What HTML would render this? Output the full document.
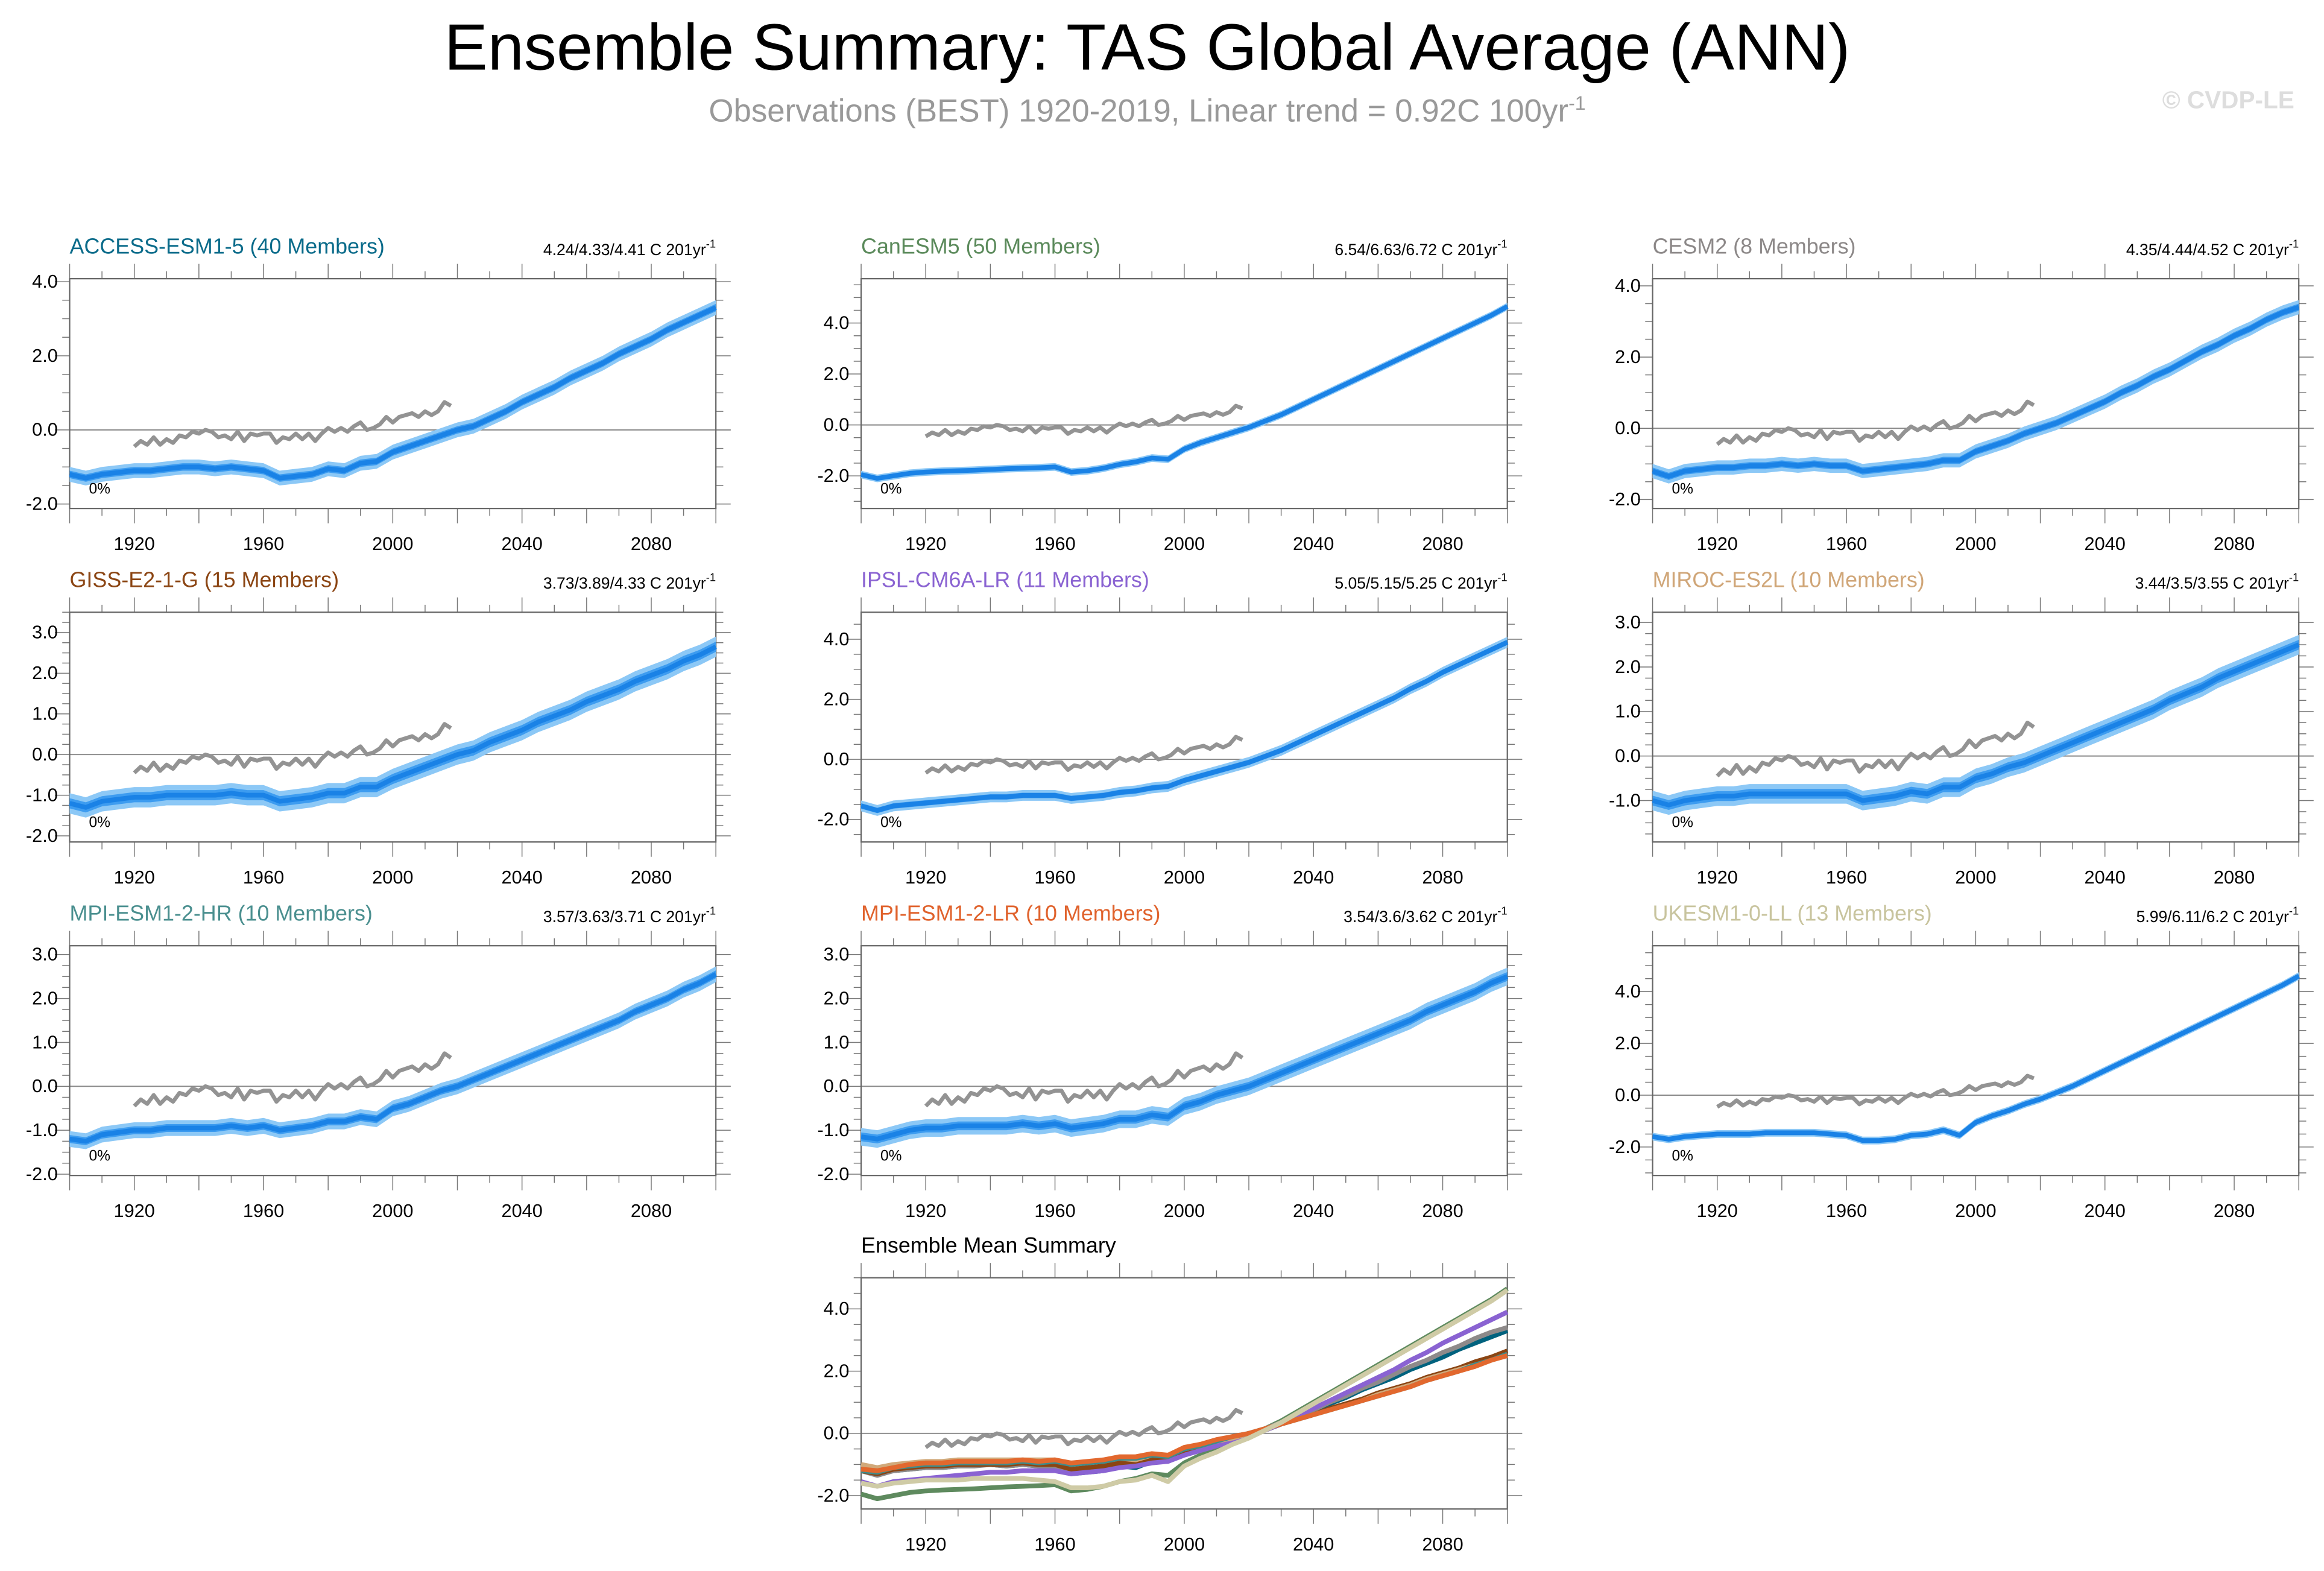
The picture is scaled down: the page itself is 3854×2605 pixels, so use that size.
<!DOCTYPE html>
<html><head><meta charset="utf-8"><style>
html,body{margin:0;padding:0;background:#fff;}
svg{display:block;font-family:"Liberation Sans",sans-serif;}
</style></head><body>
<svg id="chart" width="3854" height="2605" viewBox="0 0 1568 1059.8" xmlns="http://www.w3.org/2000/svg">
<rect width="1568" height="1059.8" fill="#fff"/>
<text x="774" y="47" font-size="44" text-anchor="middle" fill="#000">Ensemble Summary: TAS Global Average (ANN)</text>
<text x="774" y="82" font-size="21.5" text-anchor="middle" fill="#999">Observations (BEST) 1920-2019, Linear trend = 0.92C 100yr<tspan dy="-8" font-size="13">-1</tspan></text>
<text x="1548" y="73" font-size="16.5" text-anchor="end" fill="#ddd" font-weight="bold">© CVDP-LE</text>
<g id="panels"></g>
</svg>
<script>
const modelNames = ["ACCESS-ESM1-5 (40 Members)","CanESM5 (50 Members)","CESM2 (8 Members)","GISS-E2-1-G (15 Members)","IPSL-CM6A-LR (11 Members)","MIROC-ES2L (10 Members)","MPI-ESM1-2-HR (10 Members)","MPI-ESM1-2-LR (10 Members)","UKESM1-0-LL (13 Members)"];
const trendLabels = ["4.24/4.33/4.41 C 201yr","6.54/6.63/6.72 C 201yr","4.35/4.44/4.52 C 201yr","3.73/3.89/4.33 C 201yr","5.05/5.15/5.25 C 201yr","3.44/3.5/3.55 C 201yr","3.57/3.63/3.71 C 201yr","3.54/3.6/3.62 C 201yr","5.99/6.11/6.2 C 201yr"];
const modelYears = Array.from({length:41},(_,i)=>1900+5*i);
const accessMean = [-1.2,-1.3,-1.2,-1.15,-1.1,-1.1,-1.05,-1.0,-1.0,-1.05,-1.0,-1.05,-1.1,-1.3,-1.25,-1.2,-1.05,-1.1,-0.9,-0.85,-0.6,-0.45,-0.3,-0.15,0.0,0.1,0.3,0.5,0.75,0.95,1.15,1.4,1.6,1.8,2.05,2.25,2.45,2.7,2.9,3.1,3.3];
const canesmMean = [-1.95,-2.1,-2.0,-1.9,-1.85,-1.82,-1.8,-1.78,-1.75,-1.72,-1.7,-1.68,-1.65,-1.85,-1.8,-1.7,-1.55,-1.45,-1.3,-1.35,-0.95,-0.7,-0.5,-0.3,-0.1,0.15,0.4,0.7,1.0,1.3,1.6,1.9,2.2,2.5,2.8,3.1,3.4,3.7,4.0,4.3,4.65];
const cesmMean = [-1.2,-1.35,-1.2,-1.15,-1.1,-1.1,-1.05,-1.05,-1.0,-1.05,-1.0,-1.05,-1.05,-1.2,-1.15,-1.1,-1.05,-1.0,-0.9,-0.9,-0.65,-0.5,-0.35,-0.15,0.0,0.15,0.35,0.55,0.75,1.0,1.2,1.45,1.65,1.9,2.15,2.35,2.6,2.8,3.05,3.25,3.4];
const gissMean = [-1.2,-1.3,-1.15,-1.1,-1.05,-1.05,-1.0,-1.0,-1.0,-1.0,-0.95,-1.0,-1.0,-1.15,-1.1,-1.05,-0.95,-0.95,-0.8,-0.8,-0.6,-0.45,-0.3,-0.15,0.0,0.1,0.3,0.45,0.6,0.8,0.95,1.1,1.3,1.45,1.6,1.8,1.95,2.1,2.3,2.45,2.65];
const ipslMean = [-1.55,-1.7,-1.55,-1.5,-1.45,-1.4,-1.35,-1.3,-1.25,-1.25,-1.2,-1.2,-1.2,-1.3,-1.25,-1.2,-1.1,-1.05,-0.95,-0.9,-0.7,-0.55,-0.4,-0.25,-0.1,0.1,0.3,0.55,0.8,1.05,1.3,1.55,1.8,2.05,2.35,2.6,2.9,3.15,3.4,3.65,3.9];
const mirocMean = [-1.0,-1.1,-1.0,-0.95,-0.9,-0.9,-0.85,-0.85,-0.85,-0.85,-0.85,-0.85,-0.85,-1.0,-0.95,-0.9,-0.8,-0.85,-0.7,-0.7,-0.5,-0.4,-0.25,-0.15,0.0,0.15,0.3,0.45,0.6,0.75,0.9,1.05,1.25,1.4,1.55,1.75,1.9,2.05,2.2,2.35,2.5];
const mpihrMean = [-1.2,-1.25,-1.1,-1.05,-1.0,-1.0,-0.95,-0.95,-0.95,-0.95,-0.9,-0.95,-0.9,-1.0,-0.95,-0.9,-0.8,-0.8,-0.7,-0.75,-0.5,-0.4,-0.25,-0.1,0.0,0.15,0.3,0.45,0.6,0.75,0.9,1.05,1.2,1.35,1.5,1.7,1.85,2.0,2.2,2.35,2.55];
const mpilrMean = [-1.15,-1.2,-1.1,-1.0,-0.95,-0.95,-0.9,-0.9,-0.9,-0.9,-0.85,-0.9,-0.85,-0.95,-0.9,-0.85,-0.75,-0.75,-0.65,-0.7,-0.45,-0.35,-0.2,-0.1,0.0,0.15,0.3,0.45,0.6,0.75,0.9,1.05,1.2,1.35,1.5,1.7,1.85,2.0,2.15,2.35,2.5];
const ukesmMean = [-1.6,-1.7,-1.6,-1.55,-1.5,-1.5,-1.5,-1.45,-1.45,-1.45,-1.45,-1.5,-1.55,-1.75,-1.75,-1.7,-1.55,-1.5,-1.35,-1.55,-1.05,-0.8,-0.6,-0.35,-0.15,0.1,0.35,0.65,0.95,1.25,1.55,1.85,2.15,2.45,2.75,3.05,3.35,3.65,3.95,4.25,4.6];
const ensembleSpread = [0.2,0.15,0.2,0.25,0.18,0.22,0.18,0.2,0.15];
const obsYears = Array.from({length:50},(_,i)=>1920+2*i);
const obsValues = [-0.45,-0.3,-0.4,-0.2,-0.4,-0.25,-0.35,-0.15,-0.2,-0.05,-0.1,0.0,-0.05,-0.2,-0.15,-0.25,-0.05,-0.3,-0.1,-0.15,-0.1,-0.1,-0.35,-0.2,-0.25,-0.1,-0.25,-0.1,-0.3,-0.1,0.05,-0.05,0.05,-0.05,0.1,0.2,0.0,0.05,0.15,0.35,0.2,0.35,0.4,0.45,0.35,0.5,0.4,0.5,0.75,0.65];
const yTickLabels = [[-2,0,2,4],[-2,0,2,4],[-2,0,2,4],[-2,-1,0,1,2,3],[-2,0,2,4],[-1,0,1,2,3],[-2,-1,0,1,2,3],[-2,-1,0,1,2,3],[-2,0,2,4]];
const xTickLabels = [1920,1960,2000,2040,2080];
const summaryTicks = [-2,0,2,4];

const allMeans = [accessMean,canesmMean,cesmMean,gissMean,ipslMean,mirocMean,mpihrMean,mpilrMean,ukesmMean];
const titleColors = ["#0a6b8a","#5b8a5b","#8c8888","#8b4513","#8a63d2","#d0a678","#4a8f8f","#e0622c","#c8c49e"];
const lineColors = ["#00627e","#5e8a5e","#8e8a8a","#8b4513","#8a63d2","#d1a97a","#3d8c8c","#e2682e","#cfcba6"];
const layout = [
 {x:47,top:188,bot:343,ymin:-2.12,ymax:4.08},
 {x:581,top:188,bot:343,ymin:-3.28,ymax:5.74},
 {x:1115,top:188,bot:343,ymin:-2.25,ymax:4.2},
 {x:47,top:413,bot:568,ymin:-2.15,ymax:3.5},
 {x:581,top:413,bot:568,ymin:-2.75,ymax:4.9},
 {x:1115,top:413,bot:568,ymin:-1.93,ymax:3.23},
 {x:47,top:638,bot:793,ymin:-2.03,ymax:3.2},
 {x:581,top:638,bot:793,ymin:-2.03,ymax:3.2},
 {x:1115,top:638,bot:793,ymin:-3.1,ymax:5.77}
];
const W = 436;
const NS = "http://www.w3.org/2000/svg";
const root = document.getElementById('panels');
function mk(tag, attrs, parent){const e=document.createElementNS(NS,tag);for(const k in attrs)e.setAttribute(k,attrs[k]);(parent||root).appendChild(e);return e;}

function drawAxes(g,L,ticks){
  const sx=y=>L.x+(y-1900)/200*W;
  const sy=v=>L.bot-(v-L.ymin)/(L.ymax-L.ymin)*(L.bot-L.top);
  for(let yr=1900;yr<=2100;yr+=10){
    const major = yr%20===0; const len = major?10:5; const X=sx(yr);
    mk('line',{x1:X,x2:X,y1:L.top,y2:L.top-len,stroke:'#777','stroke-width':0.6},g);
    mk('line',{x1:X,x2:X,y1:L.bot,y2:L.bot+len,stroke:'#777','stroke-width':0.6},g);
  }
  xTickLabels.forEach(yr=>{
    const t=mk('text',{x:sx(yr),y:L.bot+28,'font-size':12.5,'text-anchor':'middle',fill:'#000'},g);
    t.textContent=yr;
    
    
  });
  const step = ticks[1]-ticks[0];
  const minor = step/4;
  for(let v=Math.ceil(L.ymin/minor)*minor; v<=L.ymax+1e-9; v+=minor){
    const isMajor = Math.abs(v/step-Math.round(v/step))<1e-6; const len=isMajor?10:5; const Y=sy(v);
    mk('line',{x1:L.x,x2:L.x-len,y1:Y,y2:Y,stroke:'#777','stroke-width':0.6},g);
    mk('line',{x1:L.x+W,x2:L.x+W+len,y1:Y,y2:Y,stroke:'#777','stroke-width':0.6},g);
  }
  ticks.forEach(v=>{
    const t=mk('text',{x:L.x-8,y:sy(v)+4,'font-size':12.5,'text-anchor':'end',fill:'#000'},g);
    t.textContent=v.toFixed(1);
    
    
  });
  const zl=mk('line',{x1:L.x,x2:L.x+W+10,y1:sy(0),y2:sy(0),stroke:'#888','stroke-width':0.8},g);
  
  
  const box=mk('rect',{x:L.x,y:L.top,width:W,height:L.bot-L.top,fill:'none',stroke:'#666','stroke-width':0.9},g);
  
  
  return {sx,sy};
}
function pathFrom(xs,vs,sx,sy){return vs.map((v,i)=>(i?'L':'M')+sx(xs[i]).toFixed(2)+','+sy(v).toFixed(2)).join('');}
function obsLine(g,sx,sy){
  const p=mk('path',{d:pathFrom(obsYears,obsValues,sx,sy),fill:'none',stroke:'#939393','stroke-width':2.7,'stroke-linejoin':'round'},g);
  
  
}

allMeans.forEach((mean,i)=>{
  const L=layout[i];
  const g=mk('g',{});
  
  
  const {sx,sy}=drawAxes(g,L,yTickLabels[i]);
  const sp=ensembleSpread[i];
  const upper=mean.map(v=>v+sp), lower=mean.map(v=>v-sp);
  const outer=pathFrom(modelYears,upper,sx,sy)+pathFrom(modelYears.slice().reverse(),lower.slice().reverse(),sx,sy).replace('M','L')+'Z';
  const b=mk('path',{d:outer,fill:'#8cc8f6',stroke:'none'},g);
  
  
  const u2=mean.map(v=>v+sp/2), l2=mean.map(v=>v-sp/2);
  const inner=pathFrom(modelYears,u2,sx,sy)+pathFrom(modelYears.slice().reverse(),l2.slice().reverse(),sx,sy).replace('M','L')+'Z';
  const b2=mk('path',{d:inner,fill:'#3d9cf0',stroke:'none'},g);
  
  
  const m=mk('path',{d:pathFrom(modelYears,mean,sx,sy),fill:'none',stroke:'#1a82e6','stroke-width':3.2,'stroke-linejoin':'round'},g);
  
  
  obsLine(g,sx,sy);
  const pct=mk('text',{x:L.x+13,y:L.bot-10,'font-size':10,fill:'#000'},g);
  pct.textContent='0%';
  
  
  const tt=mk('text',{x:L.x,y:L.top-17,'font-size':14.6,fill:titleColors[i]},g);
  tt.textContent=modelNames[i];
  
  
  const tr=mk('text',{x:L.x+W,y:L.top-16,'font-size':10.8,'text-anchor':'end',fill:'#000'},g);
  tr.textContent=trendLabels[i];
  const sup=mk('tspan',{dy:-5,'font-size':7.5},tr);
  sup.textContent='-1';
  
  
});

(function(){
  const L={x:581,top:862,bot:1018,ymin:-2.43,ymax:5.0};
  const g=mk('g',{});
  
  
  const {sx,sy}=drawAxes(g,L,summaryTicks);
  obsLine(g,sx,sy);
  allMeans.forEach((mean,i)=>{
    const p=mk('path',{d:pathFrom(modelYears,mean,sx,sy),fill:'none',stroke:lineColors[i],'stroke-width':3.2,'stroke-linejoin':'round'},g);
    
    
  });
  const tt=mk('text',{x:L.x,y:L.top-17,'font-size':14.6,fill:'#000'},g);
  tt.textContent='Ensemble Mean Summary';
  
  
})();
</script>
</body></html>
